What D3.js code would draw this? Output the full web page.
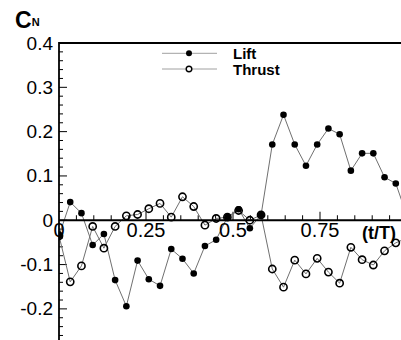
<!DOCTYPE html>
<html><head><meta charset="utf-8">
<script src="https://cdn.jsdelivr.net/npm/d3@7/dist/d3.min.js"></script>
<style>html,body{margin:0;padding:0;background:#fff;overflow:hidden}</style>
</head><body>
<svg id="c" width="401" height="340"></svg>
<script>
const tValues = d3.range(32).map(i => i / 31);
const liftValues = [-0.035,0.041,0.016,-0.056,-0.031,-0.135,-0.194,-0.091,-0.133,-0.148,-0.065,-0.087,-0.120,-0.058,-0.044,0.007,0.025,-0.018,0.012,0.171,0.238,0.171,0.123,0.171,0.207,0.194,0.112,0.151,0.151,0.097,0.083,0.010];
const thrustValues = [-0.035,-0.139,-0.103,-0.014,-0.063,-0.014,0.010,0.013,0.026,0.038,0.007,0.053,0.031,-0.011,0.004,0.007,0.022,0.000,0.012,-0.110,-0.151,-0.090,-0.121,-0.086,-0.117,-0.142,-0.061,-0.089,-0.101,-0.069,-0.051,-0.040];
const xTickLabels = ["0","0.25","0.5","0.75"];
const xTickValues = [0,0.25,0.5,0.75];
const yTickLabels = ["0.4","0.3","0.2","0.1","0","-0.1","-0.2"];
const yTickValues = [0.4,0.3,0.2,0.1,0,-0.1,-0.2];
const seriesNames = ["Lift","Thrust"];

const svg = d3.select("#c");
const x = d3.scaleLinear().domain([0,1]).range([59,407]);
const y = d3.scaleLinear().domain([-0.3,0.4]).range([353.2,43]);

svg.append("defs").append("clipPath").attr("id","pc")
  .append("rect").attr("x",59).attr("y",43).attr("width",348).attr("height",310);

// frame top
svg.append("line").attr("x1",59).attr("x2",410).attr("y1",y(0.4)).attr("y2",y(0.4))
  .attr("stroke","#000").attr("stroke-width",1.8);

// y minor/major ticks (inward)
const yMinor = d3.range(-15,21).map(i => i*0.02);
svg.selectAll(".ymt").data(yMinor).enter().append("line")
  .attr("x1",59).attr("x2",d => Math.abs(Math.round(d*100)%10)===0 ? 67 : 63)
  .attr("y1",d=>y(d)).attr("y2",d=>y(d)).attr("stroke","#000").attr("stroke-width",1);

// x ticks along zero line, pointing up
const xMinor = d3.range(1,21).map(i => i*0.05);
svg.selectAll(".xmt").data(xMinor).enter().append("line")
  .attr("x1",d=>x(d)).attr("x2",d=>x(d))
  .attr("y1",y(0)).attr("y2",d => (Math.round(d*100)%25===0) ? y(0)-8.5 : y(0)-5)
  .attr("stroke","#000").attr("stroke-width",1);

// series
const lineGen = d3.line().x((d,i)=>x(tValues[i])).y(d=>y(d));
const g = svg.append("g").attr("clip-path","url(#pc)");
g.append("path").datum(thrustValues).attr("d",lineGen).attr("fill","none").attr("stroke","#707070").attr("stroke-width",1);
g.append("path").datum(liftValues).attr("d",lineGen).attr("fill","none").attr("stroke","#707070").attr("stroke-width",1);
g.selectAll(".th").data(thrustValues).enter().append("circle")
  .attr("cx",(d,i)=>x(tValues[i])).attr("cy",d=>y(d)).attr("r",3.6)
  .attr("fill","none").attr("stroke","#000").attr("stroke-width",1.6);
g.selectAll(".li").data(liftValues).enter().append("circle")
  .attr("cx",(d,i)=>x(tValues[i])).attr("cy",d=>y(d)).attr("r",3.3)
  .attr("fill","#000");

// axes lines
svg.append("line").attr("x1",59).attr("x2",410).attr("y1",y(0)).attr("y2",y(0))
  .attr("stroke","#000").attr("stroke-width",2);
svg.append("line").attr("x1",59).attr("x2",59).attr("y1",y(0.4)-0.9).attr("y2",345)
  .attr("stroke","#000").attr("stroke-width",1.8);

// y labels
svg.selectAll(".yl").data(yTickValues).enter().append("text")
  .attr("x",53).attr("y",d=>y(d)+6.5).attr("text-anchor","end")
  .attr("font-family","'Liberation Sans', Arial, sans-serif").attr("font-size",19)
  .text((d,i)=>yTickLabels[i]);
// x labels
svg.selectAll(".xl").data(xTickValues).enter().append("text")
  .attr("x",d=>x(d)).attr("y",237).attr("text-anchor","middle")
  .attr("font-family","'Liberation Sans', Arial, sans-serif").attr("font-size",20)
  .text((d,i)=>xTickLabels[i]);

// axis titles
svg.append("text").attr("x",362).attr("y",239)
  .attr("font-family","'Liberation Sans', Arial, sans-serif").attr("font-size",18).attr("font-weight","bold")
  .text("(t/T)");
const ct = svg.append("text").attr("x",15).attr("y",28)
  .attr("font-family","'Liberation Sans', Arial, sans-serif").attr("font-weight","bold");
ct.append("tspan").attr("font-size",23).text("C");
ct.append("tspan").attr("font-size",11).attr("dy",-2).text("N");

// legend
const leg = svg.append("g");
[53.3, 69].forEach((ly,k) => {
  leg.append("line").attr("x1",162).attr("x2",217).attr("y1",ly).attr("y2",ly)
    .attr("stroke","#a0a0a0").attr("stroke-width",1);
  if (k===0) leg.append("circle").attr("cx",189).attr("cy",ly).attr("r",3).attr("fill","#000");
  else leg.append("circle").attr("cx",189).attr("cy",ly).attr("r",2.8).attr("fill","#fff").attr("stroke","#000").attr("stroke-width",1.4);
  leg.append("text").attr("x",233).attr("y",ly+6)
    .attr("font-family","'Liberation Sans', Arial, sans-serif").attr("font-size",15).attr("font-weight","bold")
    .text(seriesNames[k]);
});
</script>
</body></html>
